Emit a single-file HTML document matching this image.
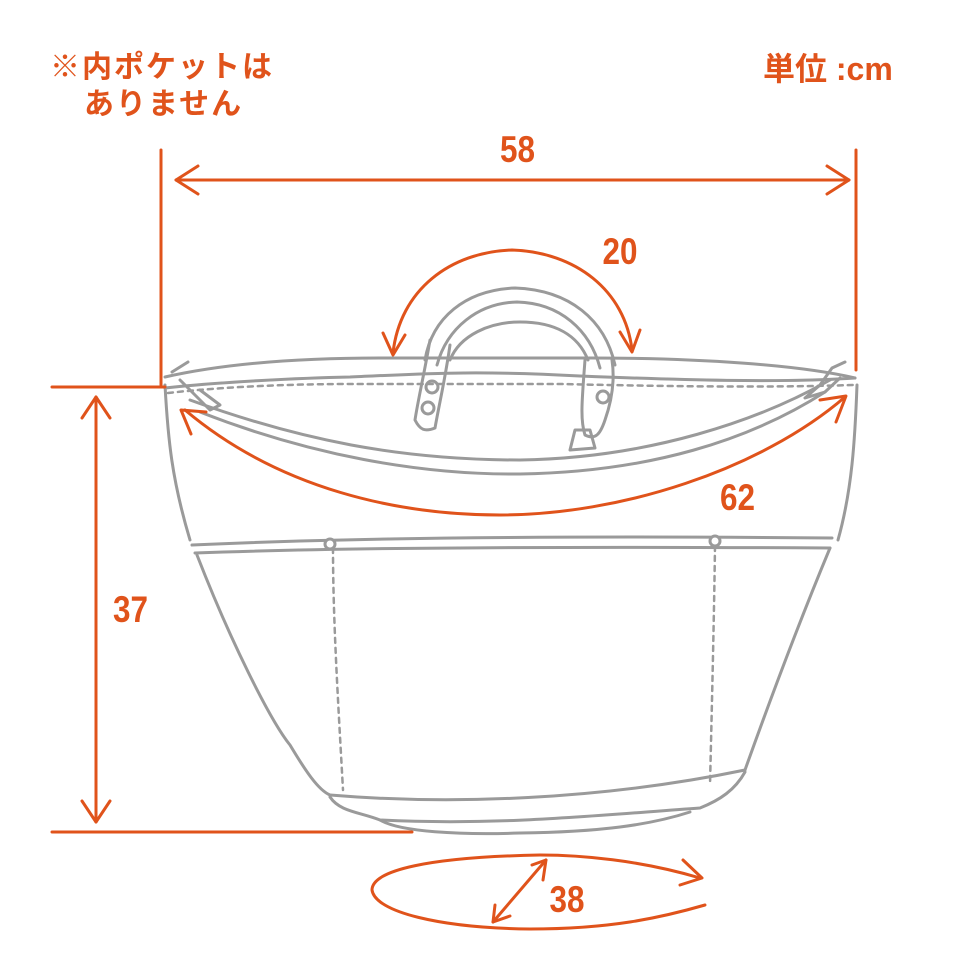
<!DOCTYPE html>
<html><head><meta charset="utf-8"><style>
html,body{margin:0;padding:0;background:#fff;}
svg{display:block;}
text{font-family:"Liberation Sans","Noto Sans CJK JP",sans-serif;font-weight:bold;fill:#e0531b;}
</style></head><body>
<svg width="963" height="963" viewBox="0 0 963 963" xmlns="http://www.w3.org/2000/svg">
<g fill="none" stroke="#9a9a9a" stroke-width="3" stroke-linecap="round" stroke-linejoin="round">
<path d="M165,377 C240,360 330,358 380,358 L590,358 C700,358 800,365 855,378"/>
<path d="M165,388 C220,382 300,378 350,377 C420,374 470,370 580,376 C680,380 780,383 855,378"/>
<path d="M168,393 C230,386 300,384 350,384 L560,384 C650,386 760,388 853,385" stroke-dasharray="5,5" stroke-width="2.5"/>
<path d="M190,400 C300,440 400,460 520,460 C650,458 760,420 830,380"/>
<path d="M200,412 C310,455 420,475 520,474 C650,472 750,440 825,392"/>
<path d="M165,385 C168,440 172,480 190,540"/>
<path d="M857,385 C855,440 852,490 838,540"/>
<path d="M192,545 C300,540 500,535 832,538"/>
<path d="M195,553 C300,549 500,546 830,548"/>
<path d="M197,555 C230,640 270,720 290,745 C305,770 318,790 330,795"/>
<path d="M830,548 C800,620 770,700 745,770"/>
<path d="M330,795 C450,805 600,800 745,770"/>
<path d="M330,797 C340,812 360,812 380,820 C500,826 600,815 700,808 C720,800 735,790 745,772"/>
<path d="M380,820 C400,832 460,835 520,833 C600,832 650,825 690,812"/>
<path d="M333,548 C333,620 338,700 343,790" stroke-dasharray="5,5" stroke-width="2.5"/>
<path d="M715,546 C714,620 712,700 710,785" stroke-dasharray="5,5" stroke-width="2.5"/>
<circle cx="330" cy="544" r="5" fill="#fff"/>
<circle cx="715" cy="541" r="5" fill="#fff"/>
<path d="M425,360 C432,318 465,290 515,288 C570,290 605,320 615,365"/>
<path d="M437,365 C447,328 478,303 517,302 C560,303 590,330 600,368"/>
<path d="M450,360 C460,335 490,322 520,322 C555,322 578,335 588,360"/>
<path d="M430,340 C425,370 418,400 415,420 C420,430 425,432 435,428 C440,400 445,380 450,345"/>
<path d="M585,360 C582,400 580,420 585,435 C595,440 600,435 605,420 C612,400 615,380 612,360"/>
<path d="M590,430 L575,430 L570,450 L595,448 Z"/>
<circle cx="432" cy="387" r="6"/>
<circle cx="428" cy="408" r="6"/>
<circle cx="603" cy="397" r="6"/>
<path d="M172,372 L188,362 M180,380 L195,395 L210,410 L220,405 L200,390"/>
<path d="M845,362 L832,368 L820,385 L805,398 L825,392 L840,378"/>
</g>
<g fill="none" stroke="#e0531b" stroke-width="3" stroke-linecap="round" stroke-linejoin="round">
<path d="M161,150 L161,385"/>
<path d="M856,150 L856,370"/>
<path d="M176,180 L849,180"/>
<path d="M198,166 L176,180 L198,194"/>
<path d="M827,166 L849,180 L827,194"/>
<path d="M52,387 L165,387"/>
<path d="M52,832 L412,832"/>
<path d="M96,397 L96,822"/>
<path d="M82,418 L96,397 L110,418"/>
<path d="M82,801 L96,822 L110,801"/>
<path d="M393,353 C400,290 450,252 512,250 C575,252 625,290 632,350"/>
<path d="M383,333 L393,355 L405,335"/>
<path d="M620,332 L632,352 L640,330"/>
<path d="M185,410 C280,490 400,515 500,515 C620,515 760,470 845,397"/>
<path d="M191,434 L181,410 L206,412"/>
<path d="M820,400 L846,396 L836,422"/>
<path d="M700,878 C640,860 580,855 540,855 C430,857 372,870 372,890 C375,912 440,928 530,929 C610,929 660,918 705,905"/>
<path d="M683,860 L702,878 L680,885"/>
<path d="M493,922 L546,860"/>
<path d="M532,865 L546,860 L543,880"/>
<path d="M495,905 L493,922 L510,916"/>
</g>
<text x="50" y="77" font-size="30" letter-spacing="2">※内ポケットは</text>
<text x="84" y="114" font-size="30" letter-spacing="2">ありません</text>
<text x="763" y="80" font-size="32">単位 :cm</text>
<g font-size="37">
<text x="500" y="162" transform="translate(75,0) scale(0.85,1)">58</text>
<text x="603" y="264" transform="translate(90,0) scale(0.85,1)">20</text>
<text x="720" y="510" transform="translate(108,0) scale(0.85,1)">62</text>
<text x="113" y="622" transform="translate(17,0) scale(0.85,1)">37</text>
<text x="550" y="912" transform="translate(82,0) scale(0.85,1)">38</text>
</g>
</svg>
</body></html>
